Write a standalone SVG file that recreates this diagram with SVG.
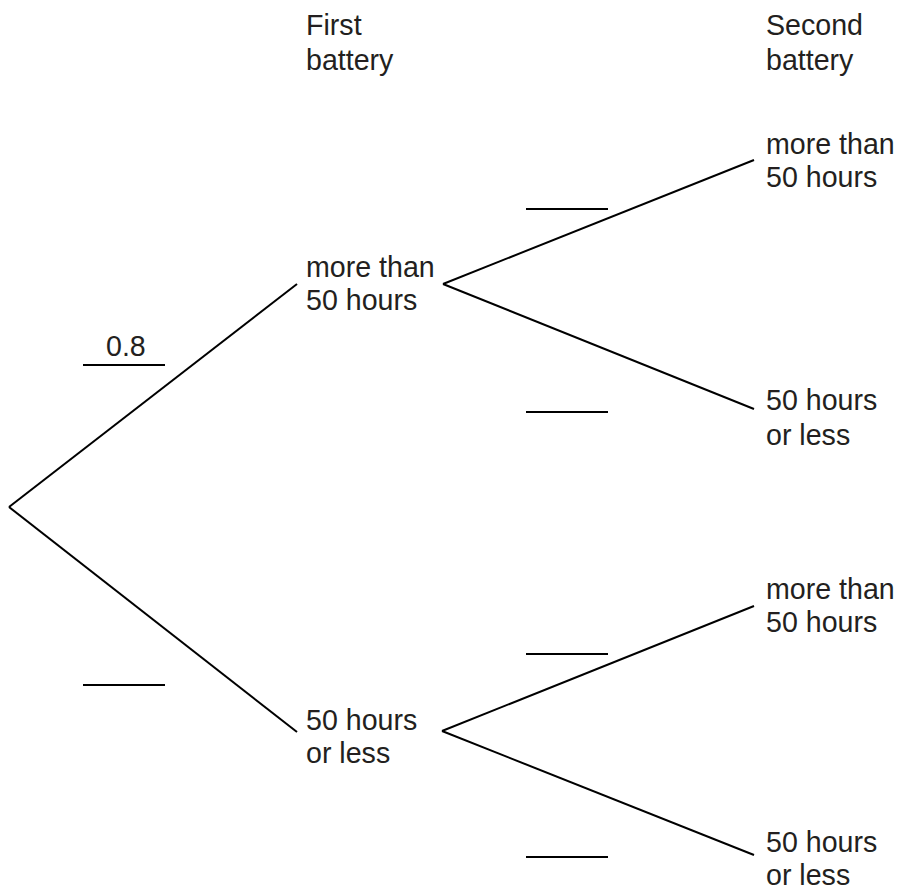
<svg xmlns="http://www.w3.org/2000/svg" width="901" height="892" viewBox="0 0 901 892">
<style>
text{font-family:"Liberation Sans",Arial,sans-serif;font-size:28.6px;fill:#231f20}
.c line{stroke:#000;stroke-width:2;fill:none}
.b{stroke:#000;stroke-width:2}
</style>
<rect width="901" height="892" fill="#fff"/>
<g id="headers">
<text x="306" y="35">First</text><text x="306" y="70">battery</text>
<text x="766" y="35">Second</text><text x="766" y="70">battery</text>
</g>
<g class="c" id="connectors">
<line x1="9" y1="507" x2="297" y2="284"/>
<line x1="9" y1="507" x2="297" y2="732"/>
<line x1="443" y1="284" x2="754" y2="160"/>
<line x1="443" y1="284" x2="754" y2="409"/>
<line x1="442" y1="731" x2="754" y2="606"/>
<line x1="442" y1="731" x2="754" y2="855"/>
</g>
<g id="blanks">
<line class="b" x1="83" y1="365" x2="165" y2="365"/>
<text x="106" y="356">0.8</text>
<line class="b" x1="83" y1="685" x2="165" y2="685"/>
<line class="b" x1="526" y1="209" x2="608" y2="209"/>
<line class="b" x1="526" y1="412" x2="608" y2="412"/>
<line class="b" x1="526" y1="654" x2="608" y2="654"/>
<line class="b" x1="526" y1="857" x2="608" y2="857"/>
</g>
<g id="n1"><text x="306" y="277">more than</text><text x="306" y="310">50 hours</text></g>
<g id="n2"><text x="306" y="730">50 hours</text><text x="306" y="763">or less</text></g>
<g id="n3"><text x="766" y="154">more than</text><text x="766" y="187">50 hours</text></g>
<g id="n4"><text x="766" y="410">50 hours</text><text x="766" y="445">or less</text></g>
<g id="n5"><text x="766" y="599">more than</text><text x="766" y="632">50 hours</text></g>
<g id="n6"><text x="766" y="852">50 hours</text><text x="766" y="885">or less</text></g>
</svg>
